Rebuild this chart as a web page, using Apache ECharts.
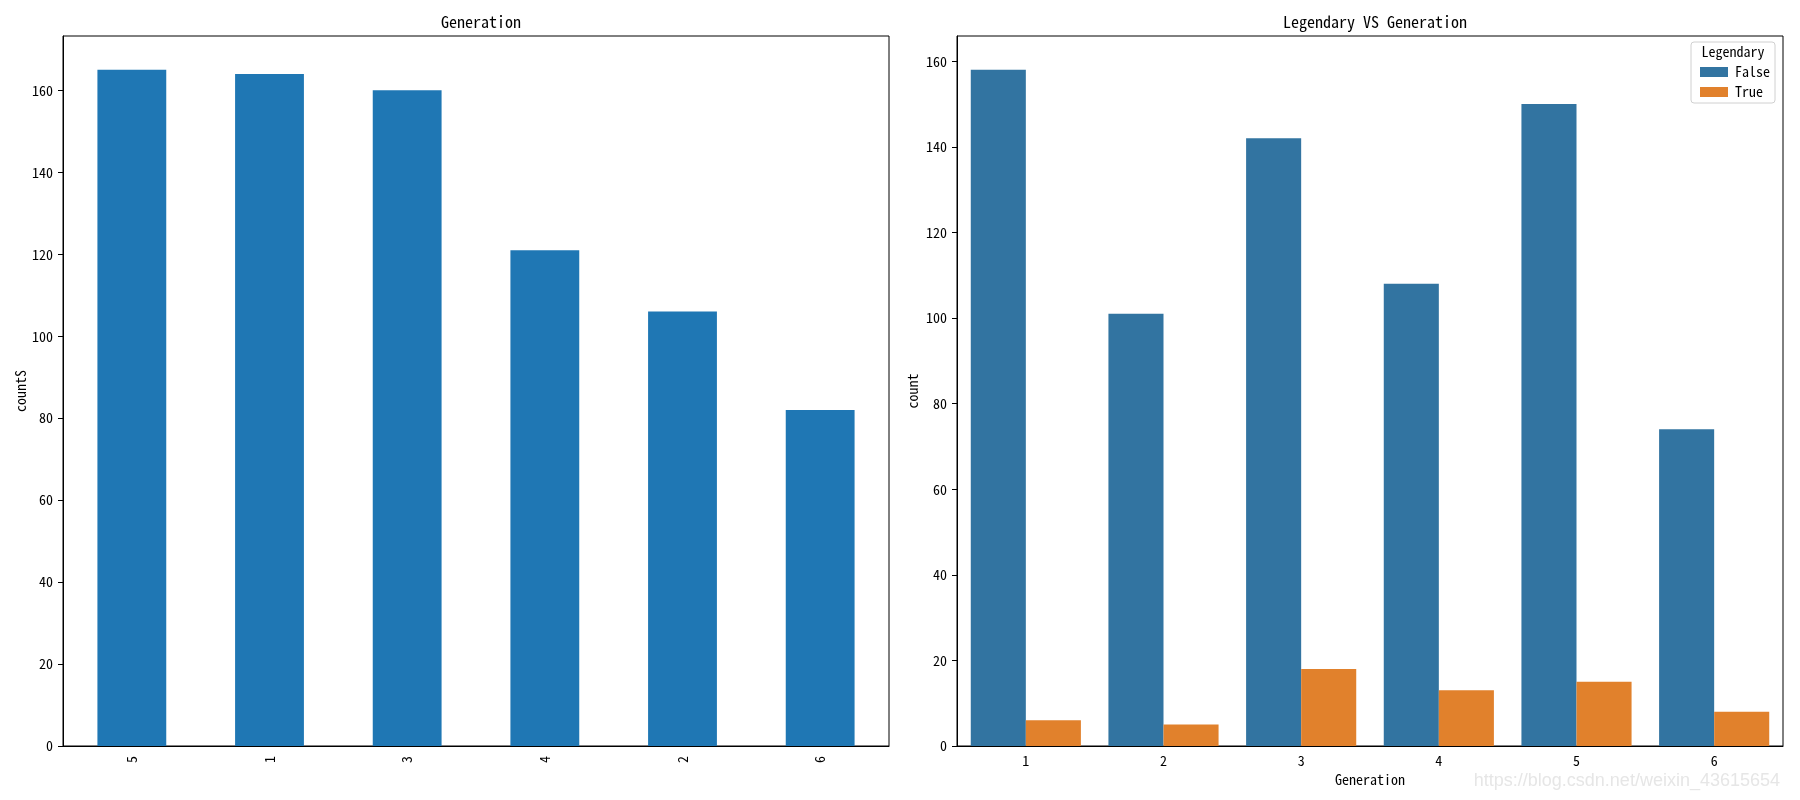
<!DOCTYPE html>
<html>
<head>
<meta charset="utf-8">
<script src="https://cdn.jsdelivr.net/npm/echarts@6/dist/echarts.min.js"></script>
<style>html,body{margin:0;padding:0;background:#fff}#c{width:1800px;height:800px}</style>
</head>
<body>
<div id="c"></div>
<script>
// ---- data ----
const leftCategories = ['5', '1', '3', '4', '2', '6'];
const leftCounts = [165, 164, 160, 121, 106, 82];
const rightCategories = ['1', '2', '3', '4', '5', '6'];
const legendFalse = [158, 101, 142, 108, 150, 74];
const legendTrue = [6, 5, 18, 13, 15, 8];
const yTicks = [0, 20, 40, 60, 80, 100, 120, 140, 160];

const FONT = "'Noto Sans Mono CJK SC', 'Noto Sans CJK SC', sans-serif";
const leftMax = Math.max(...leftCounts) * 1.05;
const rightMax = Math.max(...legendFalse, ...legendTrue) * 1.05;

const chart = echarts.init(document.getElementById('c'), null, {renderer: 'canvas'});

function yAxis(gridIndex, max, name, gap) {
  return {
    gridIndex, type: 'value', min: 0, max: max,
    name: name, nameLocation: 'middle', nameGap: gap,
    nameTextStyle: {fontFamily: FONT, fontSize: 14, color: '#000'},
    axisLine: {show: true, lineStyle: {color: '#000', width: 1}},
    axisTick: {show: true, length: 5, lineStyle: {color: '#000'}, customValues: yTicks},
    axisLabel: {fontFamily: FONT, fontSize: 14, color: '#000', margin: 10, customValues: yTicks},
    splitLine: {show: false}
  };
}

const option = {
  animation: false,
  backgroundColor: '#fff',
  title: [
    {text: 'Generation', left: 476, top: 9, textAlign: 'center',
     textStyle: {fontFamily: FONT, fontSize: 16, fontWeight: 'normal', color: '#000'}},
    {text: 'Legendary VS Generation', left: 1370, top: 9, textAlign: 'center',
     textStyle: {fontFamily: FONT, fontSize: 16, fontWeight: 'normal', color: '#000'}}
  ],
  grid: [
    {left: 63, right: 911, top: 36, bottom: 54, show: true, borderColor: '#000', borderWidth: 1, containLabel: false},
    {left: 957, right: 17, top: 36, bottom: 54, show: true, borderColor: '#000', borderWidth: 1, containLabel: false}
  ],
  xAxis: [
    {gridIndex: 0, type: 'category', data: leftCategories,
     axisLine: {lineStyle: {color: '#000'}},
     axisTick: {alignWithLabel: true, length: 5, lineStyle: {color: '#000'}},
     axisLabel: {rotate: 90, fontFamily: FONT, fontSize: 14, color: '#000', margin: 10}},
    {gridIndex: 1, type: 'category', data: rightCategories,
     name: 'Generation', nameLocation: 'middle', nameGap: 25,
     nameTextStyle: {fontFamily: FONT, fontSize: 14, color: '#000'},
     axisLine: {lineStyle: {color: '#000'}},
     axisTick: {alignWithLabel: true, length: 5, lineStyle: {color: '#000'}},
     axisLabel: {fontFamily: FONT, fontSize: 14, color: '#000', margin: 8}}
  ],
  yAxis: [
    yAxis(0, leftMax, 'countS', 35),
    yAxis(1, rightMax, 'count', 37)
  ],
  legend: {
    data: ['False', 'True'],
    orient: 'vertical', left: 1695, top: 60,
    itemWidth: 28, itemHeight: 10, itemGap: 6,
    icon: 'rect',
    textStyle: {fontFamily: FONT, fontSize: 14, color: '#000', padding: [0, 0, 0, 2]},
    z: 10
  },
  graphic: [
    {type: 'rect', z: 5, shape: {x: 1691, y: 42, width: 84, height: 61, r: 3},
     style: {fill: 'rgba(255,255,255,0.8)', stroke: '#d0d0d0', lineWidth: 1}},
    {type: 'text', z: 6, x: 1733, y: 52,
     style: {text: 'Legendary', fontFamily: FONT, fontSize: 14, fill: '#000', align: 'center', verticalAlign: 'middle'}},
    {type: 'text', z: 6, x: 1780, y: 781,
     style: {text: 'https://blog.csdn.net/weixin_43615654', fontFamily: "'Liberation Sans', Arial, sans-serif", fontSize: 18, fill: '#e6e6e6', align: 'right', verticalAlign: 'middle'}}
  ],
  series: [
    {type: 'bar', xAxisIndex: 0, yAxisIndex: 0, data: leftCounts, barWidth: '50%',
     itemStyle: {color: '#1f77b4'}},
    {type: 'bar', name: 'False', xAxisIndex: 1, yAxisIndex: 1, data: legendFalse, barWidth: '40%', barGap: '0%',
     itemStyle: {color: '#3274a1'}},
    {type: 'bar', name: 'True', xAxisIndex: 1, yAxisIndex: 1, data: legendTrue, barWidth: '40%', barGap: '0%',
     itemStyle: {color: '#e1812c'}}
  ]
};
chart.setOption(option);
</script>
</body>
</html>
